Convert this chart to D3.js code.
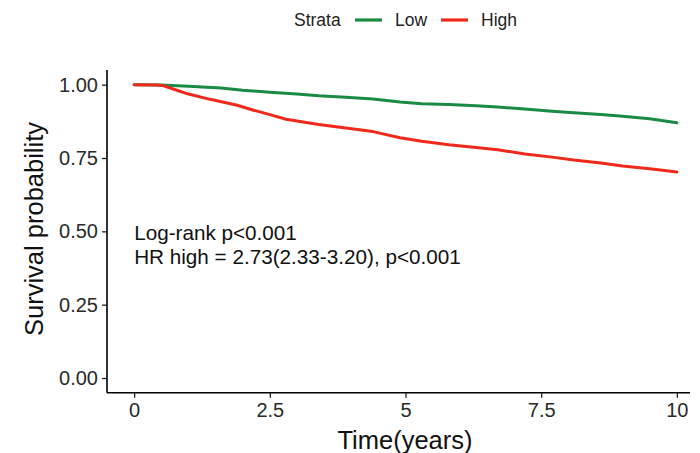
<!DOCTYPE html>
<html><head><meta charset="utf-8">
<script src="https://cdn.jsdelivr.net/npm/d3@7"></script>
<style>body{margin:0;background:#fff;}svg{display:block;font-family:Arial,"Liberation Sans",sans-serif;}</style>
</head><body><div id="chart"></div>
<script>
const strata = ["Low", "High"];
const colors = ["#1b8a45", "#ef2a1c"];
const lowTime = [0, 0.5, 1.0, 1.6, 2.0, 2.5, 3.0, 3.4, 3.9, 4.4, 4.9, 5.3, 5.8, 6.3, 6.7, 7.2, 7.7, 8.1, 8.6, 9.0, 9.5, 10];
const lowSurv = [1.0, 0.999, 0.995, 0.989, 0.981, 0.974, 0.968, 0.962, 0.957, 0.951, 0.941, 0.935, 0.932, 0.928, 0.924, 0.917, 0.909, 0.904, 0.898, 0.892, 0.884, 0.870];
const highTime = [0, 0.4, 0.55, 0.8, 1.0, 1.4, 1.9, 2.2, 2.5, 2.8, 3.4, 3.9, 4.4, 4.9, 5.3, 5.8, 6.3, 6.7, 7.2, 7.7, 8.1, 8.6, 9.0, 9.5, 10];
const highSurv = [1.0, 0.999, 0.996, 0.980, 0.968, 0.950, 0.930, 0.913, 0.898, 0.882, 0.864, 0.852, 0.840, 0.819, 0.807, 0.795, 0.786, 0.778, 0.764, 0.753, 0.743, 0.733, 0.723, 0.713, 0.702];
const xTicks = [0, 2.5, 5, 7.5, 10];
const xTickLabels = ["0", "2.5", "5", "7.5", "10"];
const yTicks = [0, 0.25, 0.5, 0.75, 1.0];
const yTickLabels = ["0.00", "0.25", "0.50", "0.75", "1.00"];
const annotations = ["Log-rank p<0.001", "HR high = 2.73(2.33-3.20), p<0.001"];

const W = 700, H = 453;
const FONT = "Arial, 'Liberation Sans', sans-serif";
const svg = d3.select("#chart").append("svg").attr("width", W).attr("height", H);
const x = d3.scaleLinear().domain([-0.5, 10.5]).range([107, 704]);
const y = d3.scaleLinear().domain([-0.05, 1.05]).range([392.7, 70]);

const series = [
  lowTime.map((t, i) => ({t, s: lowSurv[i]})),
  highTime.map((t, i) => ({t, s: highSurv[i]}))
];
const line = d3.line().x(d => x(d.t)).y(d => y(d.s)).curve(d3.curveLinear);
series.forEach((d, i) => {
  svg.append("path").datum(d).attr("d", line).attr("fill", "none")
    .attr("stroke", colors[i]).attr("stroke-width", 3).attr("stroke-linejoin", "round").attr("stroke-linecap", "round");
});

// axes
const xAxis = d3.axisBottom(x).tickValues(xTicks).tickFormat((d, i) => xTickLabels[i]).tickSize(5).tickSizeOuter(0).tickPadding(5);
const gx = svg.append("g").attr("transform", "translate(0,392.7)").call(xAxis);
gx.select(".domain").attr("stroke", "#000").attr("stroke-width", 1.6).attr("d", "M107,0H690");
gx.selectAll(".tick line").attr("stroke", "#222").attr("stroke-width", 1.3);
gx.selectAll(".tick text").attr("font-size", 20).attr("fill", "#2a2a2a").attr("font-family", FONT);

const yAxis = d3.axisLeft(y).tickValues(yTicks).tickFormat((d, i) => yTickLabels[i]).tickSize(5).tickSizeOuter(0).tickPadding(4);
const gy = svg.append("g").attr("transform", "translate(107,0)").call(yAxis);
gy.select(".domain").attr("stroke", "#000").attr("stroke-width", 1.6).attr("d", "M0,70V392.7");
gy.selectAll(".tick line").attr("stroke", "#222").attr("stroke-width", 1.3);
gy.selectAll(".tick text").attr("font-size", 20).attr("fill", "#2a2a2a").attr("font-family", FONT);

// axis titles
svg.append("text").attr("x", 405).attr("y", 449).attr("text-anchor", "middle")
  .attr("font-size", 25.5).attr("fill", "#111").text("Time(years)");
svg.append("text").attr("transform", "translate(43,229) rotate(-90)").attr("text-anchor", "middle")
  .attr("font-size", 25.5).attr("fill", "#111").text("Survival probability");

// annotations
annotations.forEach((a, i) => {
  svg.append("text").attr("x", x(0)).attr("y", 240 + i * 24).attr("font-size", 20.7).attr("fill", "#111").text(a);
});

// legend
svg.append("text").attr("x", 294).attr("y", 26).attr("font-size", 17.5).attr("fill", "#222").text("Strata");
const legX = [355, 441];
strata.forEach((s, i) => {
  svg.append("line").attr("x1", legX[i]).attr("x2", legX[i] + 27).attr("y1", 20).attr("y2", 20)
    .attr("stroke", colors[i]).attr("stroke-width", 3.2);
  svg.append("text").attr("x", legX[i] + 40).attr("y", 26).attr("font-size", 17.5).attr("fill", "#222").text(s);
});
</script></body></html>
